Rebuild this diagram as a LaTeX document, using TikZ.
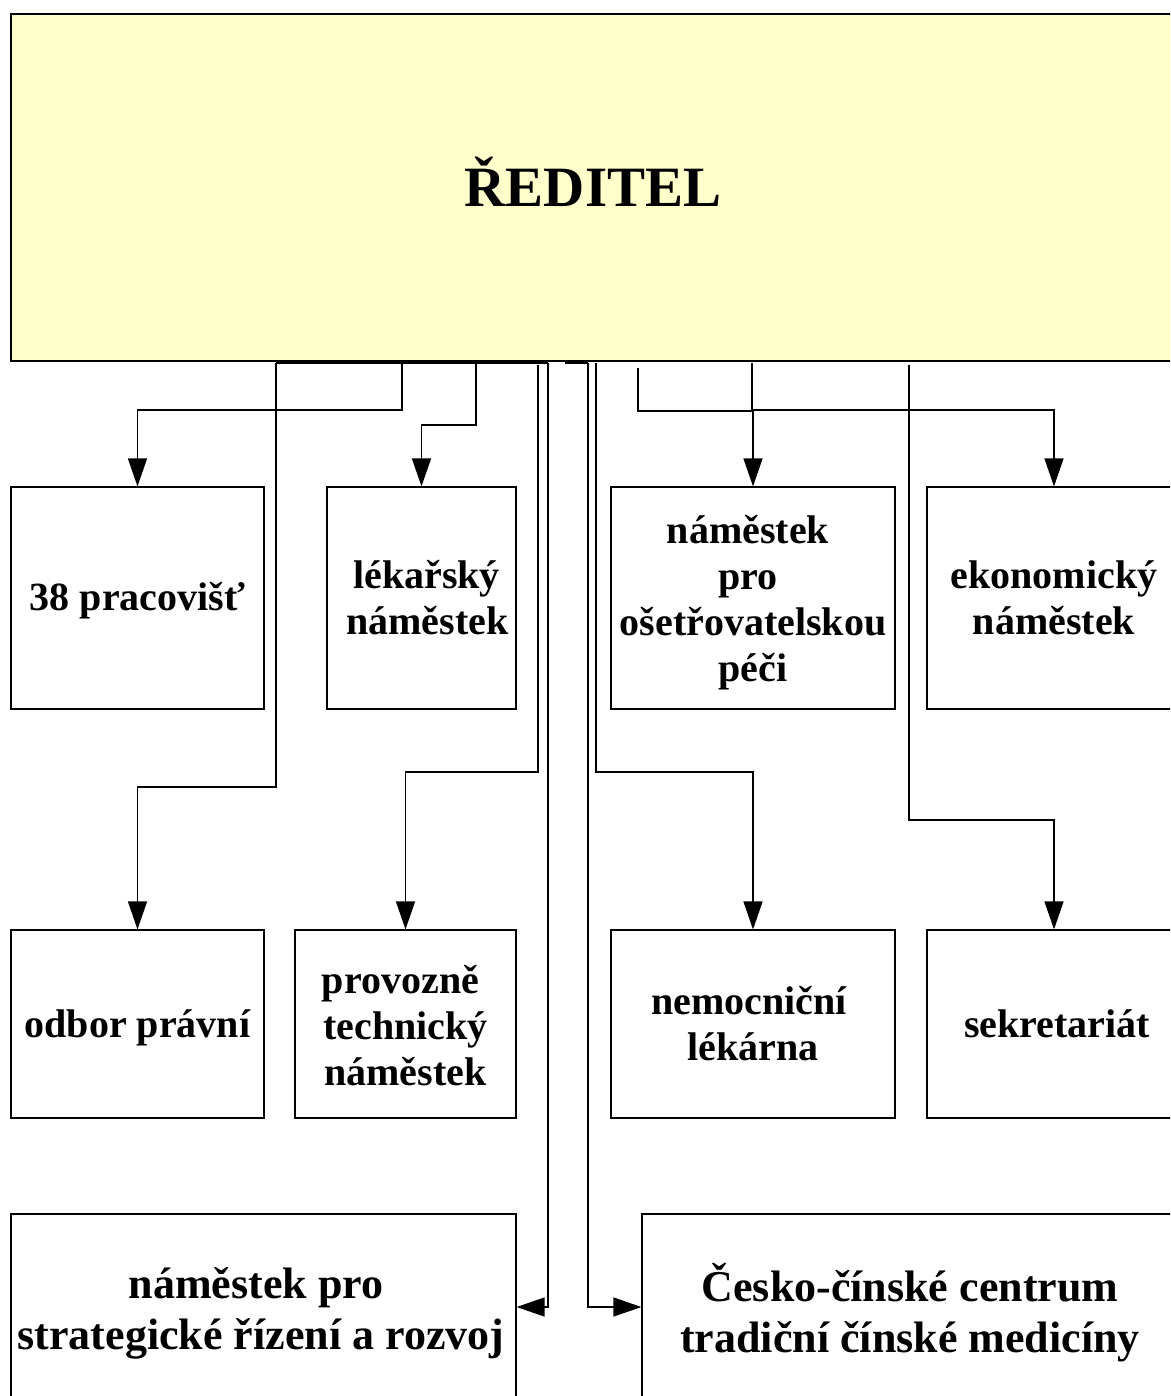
\documentclass[tikz,border=0pt]{standalone}
\usepackage{fontspec}
\setmainfont{Liberation Serif}
\usetikzlibrary{arrows.meta}
\definecolor{topfill}{HTML}{FFFFCC}
\tikzset{
  box/.style={draw=black, line width=1.2pt, fill=white, inner sep=0pt},
  txt/.style={inner sep=0pt, align=center, font=\bfseries\fontsize{40}{46}\selectfont},
  bigtxt/.style={txt, font=\bfseries\fontsize{44}{51}\selectfont},
  topbox/.style={draw=black, line width=2pt, fill=topfill, inner sep=0pt},
  toptxt/.style={inner sep=0pt, font=\bfseries\fontsize{57}{60}\selectfont},
  conn/.style={draw=black, line width=1.3pt},
  arr/.style={conn, -{Triangle[length=28pt,width=19pt]}}
}
\begin{document}
\begin{tikzpicture}[x=1pt,y=-1pt]
\useasboundingbox (0,0) rectangle (1170,1396);
\clip (0,0) rectangle (1170,1396);
\fill[white] (0,0) rectangle (1170,1396);
% director
\node[topbox, minimum width=1164pt, minimum height=347pt] (dir) at (593,187.5) {};
\node[toptxt] (dirt) at (593,181.5) {ŘEDITEL};
% first row
\node[box, minimum width=253pt, minimum height=222pt] (p38) at (137.5,598) {};
\node[txt] (p38t) at (137.5,601) {38 pracovišť};
\node[box, minimum width=189pt, minimum height=222pt] (lek) at (421.5,598) {};
\node[txt] (lekt) at (421.5,598) {\hspace*{10pt}lékařský\\ \hspace*{12pt}náměstek};
\node[box, minimum width=284pt, minimum height=222pt] (ose) at (753,598) {};
\node[txt] (oset) at (753,603) {\hspace*{-10pt}náměstek\\ \hspace*{-10pt}pro\\ ošetřovatelskou\\ péči};
\node[box, minimum width=254pt, minimum height=222pt] (eko) at (1054,598) {};
\node[txt] (ekot) at (1054,598) {ekonomický\\ náměstek};
% second row
\node[box, minimum width=253pt, minimum height=188pt] (odb) at (137.5,1024) {};
\node[txt] (odbt) at (137.5,1028) {odbor právní};
\node[box, minimum width=221pt, minimum height=188pt] (prov) at (405.5,1024) {};
\node[txt] (provt) at (405.5,1025.5) {\hspace*{-10pt}provozně\\ technický\\ náměstek};
\node[box, minimum width=284pt, minimum height=188pt] (lekarna) at (753,1024) {};
\node[txt] (lekarnat) at (753,1024) {\hspace*{-8pt}nemocniční\\ lékárna};
\node[box, minimum width=254pt, minimum height=188pt] (sekr) at (1054,1024) {};
\node[txt] (sekrt) at (1057,1024) {sekretariát};
% third row
\node[box, minimum width=505pt, minimum height=186pt] (strat) at (263.5,1307) {};
\node[bigtxt] (stratt) at (261,1313) {\hspace*{-10pt}náměstek pro\\ strategické řízení a rozvoj};
\node[box, minimum width=536pt, minimum height=186pt] (cesko) at (910,1307) {};
\node[bigtxt] (ceskot) at (910,1313) {Česko-čínské centrum\\ tradiční čínské medicíny};
% connector start points under the director box
\coordinate (s1) at (276,363);
\coordinate (s2) at (402,363);
\coordinate (s3) at (476,363);
\coordinate (s4) at (538,365);
\coordinate (s5) at (548,363);
\coordinate (s6a) at (565,363);
\coordinate (s6) at (588,363);
\coordinate (s7) at (596,363);
\coordinate (s8) at (638,368);
\coordinate (s9) at (752,363);
\coordinate (s10) at (909,365);
% connectors
\draw[conn] (s1) -- (s5);
\draw[conn] (s6a) -- (s6);
\draw[arr] (s2) -- (402,410) -| (p38.north);
\draw[arr] (s3) -- (476,425) -| (lek.north);
\draw[arr] (s1) -- (276,787) -| (odb.north);
\draw[arr] (s4) -- (538,772) -| (prov.north);
\draw[arr] (s5) |- (strat.east);
\draw[arr] (s6) |- (cesko.west);
\draw[arr] (s7) -- (596,772) -| (lekarna.north);
\draw[conn] (s8) -- (638,411) -- (752,411);
\draw[arr] (s9) -- (752,410) -| (eko.north);
\draw[arr] (753,410) -- (ose.north);
\draw[arr] (s10) -- (909,820) -| (sekr.north);
\end{tikzpicture}
\end{document}
